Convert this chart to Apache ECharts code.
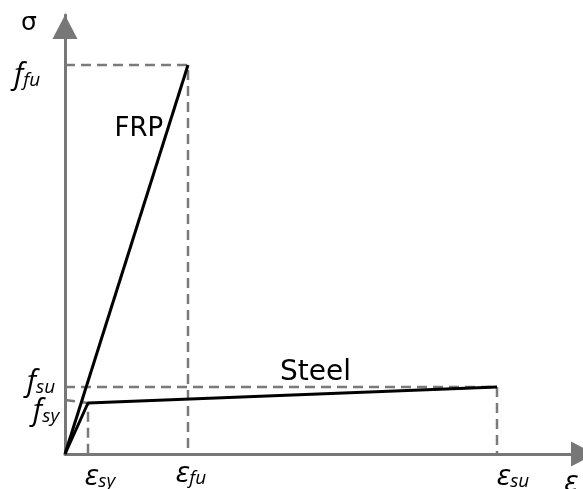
<!DOCTYPE html>
<html><head><meta charset="utf-8">
<script src="https://cdn.jsdelivr.net/npm/echarts@6/dist/echarts.min.js"></script>
<style>html,body{margin:0;padding:0;background:#fff}#c{width:583px;height:489px}</style>
</head><body><div id="c"></div>
<script>
// Schematic values (arbitrary units)
const EPS_SY = 23, EPS_FU = 123, EPS_SU = 432;
const F_SY = 51, F_SU = 67, F_FU = 389;
const X_MAX = 518, Y_MAX = 439;
const frpCurve = [[0, 0], [EPS_FU, F_FU]];
const steelCurve = [[0, 0], [EPS_SY, F_SY], [EPS_SU, F_SU]];
const guideLines = [
  [[0, F_FU], [EPS_FU, F_FU], [EPS_FU, 0]],
  [[0, F_SU], [EPS_SU, F_SU], [EPS_SU, 0]],
  [[0, F_SY + 3], [EPS_SY, F_SY], [EPS_SY, 0]]
];
// label: [x, y, text, offsetX, offsetY]
const labels = [
  [0, Y_MAX, '{g|σ}', -36, 8],
  [0, F_FU, '{m|f}{s|fu}', -38, 10],
  [EPS_FU * 0.6, F_FU * 0.6, '{t|FRP}', 0, -91],
  [EPS_SU * 0.58, F_SU, '{u|Steel}', 0, -14],
  [0, F_SU, '{m|f}{s|su}', -24, -5],
  [0, F_SY, '{m|f}{s|sy}', -19, 8],
  [EPS_SY, 0, '{e|ε}{s|sy}', 12, 22],
  [EPS_FU, 0, '{e|ε}{s|fu}', 3, 19],
  [EPS_SU, 0, '{e|ε}{s|su}', 16, 22],
  [X_MAX, 0, '{e|ε}', -12, 28]
];
const chart = echarts.init(document.getElementById('c'));
const axisCommon = {
  type: 'value', min: 0,
  axisLine: { show: true, symbol: ['none', 'triangle'], symbolSize: [25, 24], lineStyle: { color: '#777', width: 3 } },
  axisTick: { show: false }, axisLabel: { show: false }, splitLine: { show: false }
};
const series = [];
guideLines.forEach(g => series.push({
  type: 'line', data: g, symbol: 'none', silent: true, clip: false,
  lineStyle: { color: '#7a7a7a', width: 2.5, type: [10, 6] }
}));
series.push({ type: 'line', data: frpCurve, symbol: 'none', lineStyle: { color: '#000', width: 3 } });
series.push({ type: 'line', data: steelCurve, symbol: 'none', lineStyle: { color: '#000', width: 3 } });
series.push({
  type: 'scatter', symbolSize: 0, clip: false, silent: true,
  itemStyle: { color: '#000', opacity: 1 },
  data: labels.map(l => ({ value: [l[0], l[1]], label: { offset: [l[3], l[4]], formatter: l[2] } })),
  label: {
    show: true, position: 'inside', color: '#000', textBorderWidth: 0, opacity: 1,
    fontFamily: 'DejaVu Sans', fontSize: 26,
    rich: {
      g: { fontSize: 25, fontFamily: 'DejaVu Sans', color: '#000' },
      t: { fontSize: 26, fontFamily: 'DejaVu Sans', color: '#000' },
      u: { fontSize: 28, fontFamily: 'DejaVu Sans', color: '#000' },
      m: { fontSize: 30, fontFamily: 'Open Sans', fontStyle: 'italic', color: '#000', lineHeight: 30 },
      e: { fontSize: 30, fontFamily: 'Open Sans', fontStyle: 'italic', color: '#000', lineHeight: 30 },
      s: { fontSize: 19, fontFamily: 'Open Sans', fontStyle: 'italic', color: '#000', lineHeight: 30, padding: [12, 0, 0, 0] }
    }
  }
});
chart.setOption({
  animation: false,
  grid: { left: 65, top: 15, right: 0, bottom: 35, containLabel: false },
  xAxis: Object.assign({}, axisCommon, {
    max: X_MAX,
    axisLine: Object.assign({}, axisCommon.axisLine, { symbolOffset: [0, 0] })
  }),
  yAxis: Object.assign({}, axisCommon, {
    max: Y_MAX,
    axisLine: Object.assign({}, axisCommon.axisLine, { symbolOffset: [0, -12] })
  }),
  series: series
});
</script></body></html>
